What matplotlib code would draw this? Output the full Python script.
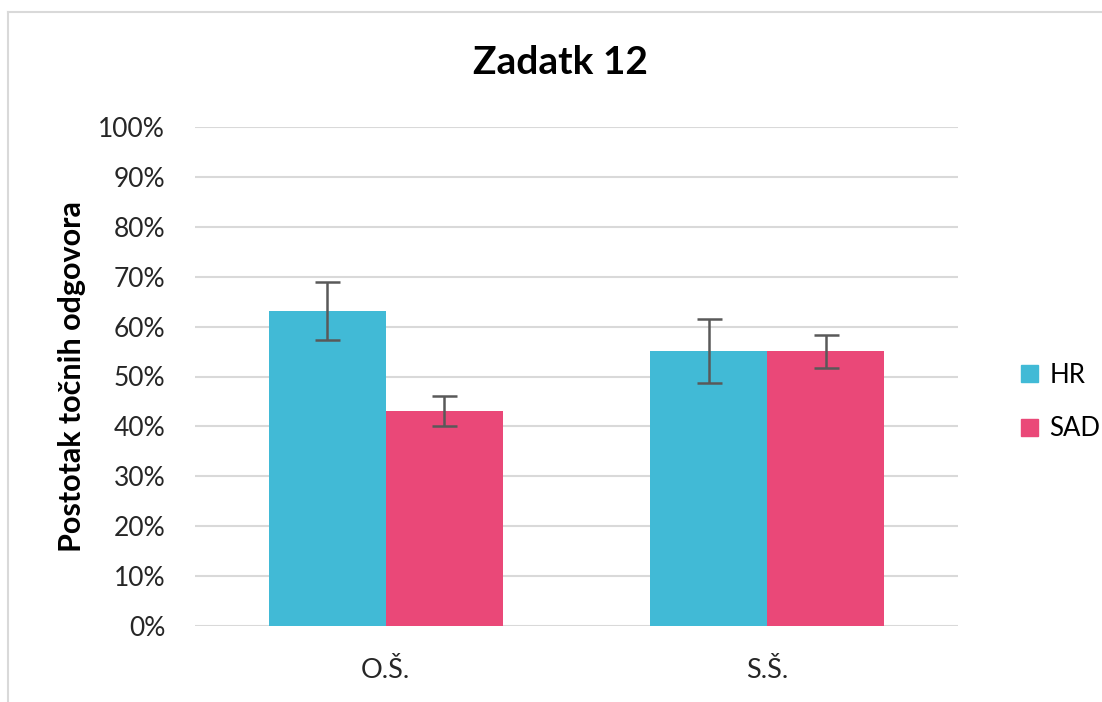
import matplotlib
matplotlib.use("Agg")
import matplotlib.pyplot as plt
from matplotlib.lines import Line2D
import numpy as np

categories = ["O.Š.", "S.Š."]
series_names = ["HR", "SAD"]
hr_values = [63.1, 55.1]
sad_values = [43.1, 55.1]
hr_err = [5.8, 6.5]
sad_err = [3.0, 3.3]
yticks = [0, 10, 20, 30, 40, 50, 60, 70, 80, 90, 100]

plt.rcParams['font.family'] = ['Lato', 'DejaVu Sans']

fig = plt.figure(figsize=(11.02, 7.02), dpi=100)
W, H = 1102, 702
ax = fig.add_axes([195 / W, 1 - 626 / H, (958 - 195) / W, (626 - 127) / H])

x = np.arange(len(categories))
bw = 0.307
cols = ["#41BAD6", "#EA4878"]
ekw = dict(ecolor="#595959", elinewidth=1.8, capsize=9, capthick=1.8)
ax.bar(x - bw / 2, hr_values, bw, color=cols[0], yerr=hr_err, error_kw=ekw, label=series_names[0], zorder=3)
ax.bar(x + bw / 2, sad_values, bw, color=cols[1], yerr=sad_err, error_kw=ekw, label=series_names[1], zorder=3)

ax.set_xlim(-0.5, 1.5)
ax.set_ylim(0, 100)
ax.set_yticks(yticks)
ax.set_yticklabels([f"{v}%" for v in yticks], fontsize=19, color="#262626")
ax.set_xticks(x)
ax.set_xticklabels(categories, fontsize=19.5, color="#262626")
ax.tick_params(axis="both", length=0)
ax.tick_params(axis="y", pad=21.5)
ax.tick_params(axis="x", pad=23)
ax.grid(axis="y", color="#D9D9D9", linewidth=1.5, zorder=0)
for s in ax.spines.values():
    s.set_visible(False)

ax.set_ylabel("Postotak točnih odgovora", fontsize=22, fontweight="bold", labelpad=9)
fig.text(560 / W, 1 - 62 / H, "Zadatk 12", ha="center", va="center", fontsize=28, fontweight="bold")

handles = [plt.Rectangle((0, 0), 1, 1, color=c) for c in cols]
fig.legend(handles, series_names, loc="center left", bbox_to_anchor=(998 / W, 1 - 402 / H),
           frameon=False, fontsize=18.5, handlelength=0.65, handleheight=0.65, labelspacing=1.1,
           handletextpad=0.45)

fig.add_artist(Line2D([8 / W, 8 / W], [0, 1 - 12 / H], color="#D9D9D9", lw=1.5, transform=fig.transFigure))
fig.add_artist(Line2D([8 / W, 1], [1 - 12 / H, 1 - 12 / H], color="#D9D9D9", lw=1.5, transform=fig.transFigure))

fig.savefig("out.png", dpi=100)
